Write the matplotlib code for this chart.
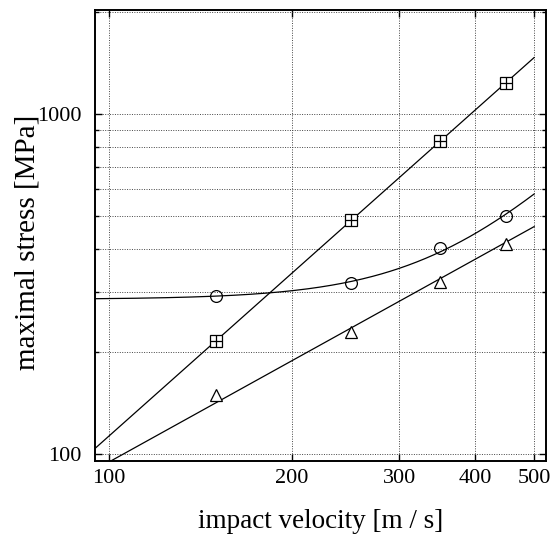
import numpy as np
import matplotlib
matplotlib.use("Agg")
import matplotlib.pyplot as plt
from matplotlib.ticker import FixedLocator, NullFormatter, FixedFormatter

plt.rcParams['font.family'] = 'serif'
plt.rcParams['font.serif'] = ['Liberation Serif', 'DejaVu Serif']

# impact velocities [m/s]
velocity = [150, 250, 350, 450]

# maximal stress [MPa]
stress_square = [215, 488, 833, 1234]
stress_circle = [291.5, 319, 403, 501]
stress_triangle = [149, 229, 320, 416]

# curve parameters
circle_base = 285.0          # plateau level of the circle curve [MPa]
triangle_fit = (94.8, 0.99)  # stress at 100 m/s, exponent

x_ticks = [100, 200, 300, 400, 500]
y_major = [100, 1000]
y_minor = [200, 300, 400, 500, 600, 700, 800, 900, 2000]

xlim = (94.8, 523)
ylim = (95.4, 2022)
v_end = 500

fig = plt.figure(figsize=(5.55, 5.34), dpi=100)
ax = fig.add_axes([95 / 555, 1 - 461 / 534, 451 / 555, 451 / 534])
ax.set_xscale('log')
ax.set_yscale('log')

v = np.geomspace(xlim[0], v_end, 300)
lv = np.log10(velocity)

# squares: power law fit
p = np.polyfit(lv, np.log10(stress_square), 1)
ax.plot(v, 10 ** np.polyval(p, np.log10(v)), color='black', lw=0.9)

# circles: sqrt(base^2 + (c v^n)^2)
rise = np.sqrt(np.array(stress_circle) ** 2 - circle_base ** 2)
pc = np.polyfit(lv, np.log10(rise), 1)
ax.plot(v, np.sqrt(circle_base ** 2 + (10 ** np.polyval(pc, np.log10(v))) ** 2),
        color='black', lw=0.9)

# triangles
ax.plot(v, triangle_fit[0] * (v / 100.0) ** triangle_fit[1], color='black', lw=0.9)

ms = 8.5
ax.plot(velocity, stress_square, ls='none', marker='s', ms=ms, mfc='white',
        mec='black', mew=0.9)
ax.plot(velocity, stress_square, ls='none', marker='+', ms=ms, mec='black', mew=0.9)
ax.plot(velocity, stress_circle, ls='none', marker='o', ms=ms, mfc='none',
        mec='black', mew=0.9)
ax.plot(velocity, stress_triangle, ls='none', marker='^', ms=ms, mfc='white',
        mec='black', mew=0.9)

ax.set_xlim(*xlim)
ax.set_ylim(*ylim)

ax.xaxis.set_major_locator(FixedLocator(x_ticks))
ax.xaxis.set_major_formatter(FixedFormatter([str(t) for t in x_ticks]))
ax.xaxis.set_minor_locator(FixedLocator([]))
ax.yaxis.set_major_locator(FixedLocator(y_major))
ax.yaxis.set_major_formatter(FixedFormatter([str(t) for t in y_major]))
ax.yaxis.set_minor_locator(FixedLocator(y_minor))
ax.yaxis.set_minor_formatter(NullFormatter())

ax.tick_params(which='both', direction='in', top=True, right=True,
               labelsize=16, width=1.0, color='black')
ax.tick_params(which='major', length=5)
ax.tick_params(which='minor', length=3)
ax.tick_params(axis='x', pad=6)
ax.tick_params(axis='y', pad=10)

ax.grid(True, which='major', axis='x', ls=(0, (1, 1.5)), lw=0.7, color='#444444')
ax.grid(True, which='both', axis='y', ls=(0, (1, 1.5)), lw=0.7, color='#444444')

for s in ax.spines.values():
    s.set_linewidth(1.4)

ax.set_xlabel('impact velocity [m / s]', fontsize=19.5, labelpad=15)
ax.set_ylabel('maximal stress [MPa]', fontsize=21)
ax.yaxis.set_label_coords(-0.121, 0.485)

fig.savefig('out.png', dpi=100)
